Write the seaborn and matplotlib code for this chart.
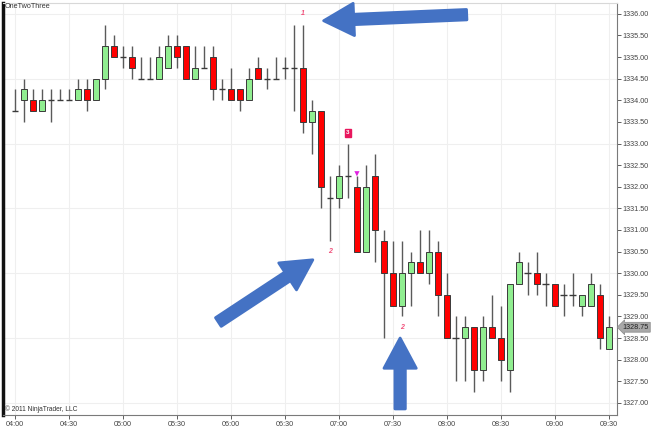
import matplotlib.pyplot as plt
import matplotlib.ticker as mticker
import numpy as np
import pandas as pd
import seaborn as sns

# 5-minute bars, 04:00 - 09:30
opens = [1333.75, 1334.0, 1334.0, 1333.75, 1334.0, 1334.0, 1334.0, 1334.0, 1334.25, 1334.0,
         1334.5, 1335.25, 1335.0, 1335.0, 1334.5, 1334.5, 1334.5, 1334.75, 1335.25, 1335.25,
         1334.5, 1334.75, 1335.0, 1334.25, 1334.25, 1334.25, 1334.0, 1334.75, 1334.5, 1334.5,
         1334.75, 1334.75, 1334.75, 1333.5, 1333.75, 1331.75, 1331.75, 1332.25, 1332.0, 1330.5,
         1332.25, 1330.75, 1330.0, 1329.25, 1330.0, 1330.25, 1330.0, 1330.5, 1329.5, 1328.5,
         1328.5, 1328.75, 1327.75, 1328.75, 1328.5, 1327.75, 1329.75, 1330.0, 1330.0, 1329.75,
         1329.75, 1329.5, 1329.5, 1329.25, 1329.25, 1329.5, 1328.25]
highs = [1334.25, 1334.5, 1334.25, 1334.25, 1334.25, 1334.25, 1334.25, 1334.5, 1334.5, 1334.5,
         1335.75, 1335.5, 1335.25, 1335.25, 1335.0, 1335.0, 1335.25, 1335.5, 1335.5, 1335.25,
         1335.25, 1335.25, 1335.25, 1334.5, 1334.75, 1334.25, 1334.75, 1335.0, 1334.75, 1335.0,
         1335.0, 1335.75, 1335.75, 1334.0, 1333.75, 1332.25, 1332.5, 1333.0, 1332.25, 1332.5,
         1332.75, 1331.0, 1330.75, 1330.75, 1330.5, 1331.0, 1331.0, 1330.75, 1330.0, 1329.0,
         1329.0, 1328.75, 1329.0, 1329.5, 1329.25, 1329.75, 1330.5, 1330.25, 1330.5, 1330.0,
         1329.75, 1329.75, 1330.0, 1329.5, 1330.0, 1329.75, 1329.0]
lows = [1333.75, 1333.5, 1333.75, 1333.75, 1333.5, 1334.0, 1334.0, 1334.0, 1333.75, 1334.0,
        1334.25, 1335.0, 1334.75, 1334.5, 1334.5, 1334.5, 1334.5, 1334.75, 1334.75, 1334.5,
        1334.5, 1334.75, 1334.0, 1334.0, 1334.0, 1333.75, 1334.0, 1334.5, 1334.25, 1334.5,
        1334.5, 1333.75, 1333.25, 1332.75, 1331.5, 1330.75, 1331.5, 1331.75, 1330.5, 1330.5,
        1330.25, 1328.5, 1329.25, 1329.0, 1329.25, 1330.0, 1329.75, 1329.0, 1328.5, 1327.5,
        1327.5, 1327.25, 1327.5, 1328.5, 1327.5, 1327.25, 1329.75, 1329.5, 1329.5, 1329.25,
        1329.25, 1329.0, 1329.25, 1329.0, 1329.25, 1328.25, 1328.25]
closes = [1333.75, 1334.25, 1333.75, 1334.0, 1334.0, 1334.0, 1334.0, 1334.25, 1334.0, 1334.5,
          1335.25, 1335.0, 1335.0, 1334.75, 1334.5, 1334.5, 1335.0, 1335.25, 1335.0, 1334.5,
          1334.75, 1334.75, 1334.25, 1334.25, 1334.0, 1334.0, 1334.5, 1334.5, 1334.5, 1334.5,
          1334.75, 1334.75, 1333.5, 1333.75, 1332.0, 1331.75, 1332.25, 1332.25, 1330.5, 1332.0,
          1331.0, 1330.0, 1329.25, 1330.0, 1330.25, 1330.0, 1330.5, 1329.5, 1328.5, 1328.5,
          1328.75, 1327.75, 1328.75, 1328.5, 1328.0, 1329.75, 1330.25, 1330.0, 1329.75, 1329.75,
          1329.25, 1329.5, 1329.5, 1329.5, 1329.75, 1328.5, 1328.75]

tick_labels = ['04:00', '04:30', '05:00', '05:30', '06:00', '06:30',
               '07:00', '07:30', '08:00', '08:30', '09:00', '09:30']
price_ticks = [1327.0, 1327.5, 1328.0, 1328.5, 1329.0, 1329.5, 1330.0, 1330.5, 1331.0,
               1331.5, 1332.0, 1332.5, 1333.0, 1333.5, 1334.0, 1334.5, 1335.0, 1335.5, 1336.0]

# pattern labels
label_bars = [32, 35, 43]
label_text = ['1', '2', '2']
label_prices = [1336.0, 1330.5, 1328.75]
box_bar, box_price = 37, 1333.25
tri_bar, tri_price = 38, 1332.3

sns.set_style('white')
plt.rcParams['font.family'] = ['Liberation Sans', 'DejaVu Sans']

o = np.array(opens); h = np.array(highs); l = np.array(lows); c = np.array(closes)
x = np.arange(len(o))
up = c > o
dn = c < o
flat = c == o

fig = plt.figure(figsize=(6.52, 4.28), dpi=100)
ax = fig.add_axes([3 / 652, 13 / 428, 614 / 652, 412 / 428])

# grid
for p in np.arange(1327.0, 1336.1, 1.5):
    ax.axhline(p, color='#efefef', lw=0.8, zorder=0)
for t in range(0, 67, 6):
    ax.axvline(t, color='#efefef', lw=0.8, zorder=0)

ax.vlines(x, l, h, color='#5a5a5a', lw=1.0, zorder=2)
ax.bar(x[up], (c - o)[up], bottom=o[up], width=0.64, color='#90ee90',
       edgecolor='#3a3a3a', lw=0.7, zorder=3)
ax.bar(x[dn], (o - c)[dn], bottom=c[dn], width=0.64, color='#ff0000',
       edgecolor='#3a3a3a', lw=0.7, zorder=3)
ax.hlines(o[flat], x[flat] - 0.38, x[flat] + 0.38, color='#3a3a3a', lw=1.0, zorder=3)

for b, t, p in zip(label_bars, label_text, label_prices):
    ax.text(b, p, t, color='#f0507a', fontsize=5, ha='center', va='center',
            style='italic', fontweight='bold', zorder=4)
ax.text(box_bar, box_price, '3', color='white', fontsize=4.5, ha='center', va='center',
        fontweight='bold', zorder=4,
        bbox=dict(boxstyle='square,pad=0.25', fc='#e8175d', ec='#e8175d'))
sns.scatterplot(x=[tri_bar], y=[tri_price], marker='v', s=14, color='#e020e0',
                edgecolor='none', ax=ax, zorder=4)

# blue arrows
arrow_kw = dict(arrowstyle='simple,head_length=1.45,head_width=1.55,tail_width=0.5',
                mutation_scale=15, color='#4472c4', shrinkA=0, shrinkB=0,
                lw=2, joinstyle='round', capstyle='round')
ax.annotate('', xy=(34.3, 1335.84), xytext=(50.2, 1335.98), arrowprops=arrow_kw, zorder=5)
ax.annotate('', xy=(33.1, 1330.31), xytext=(22.6, 1328.87), arrowprops=arrow_kw, zorder=5)
ax.annotate('', xy=(42.8, 1328.5), xytext=(42.8, 1326.86), arrowprops=arrow_kw, zorder=5)

# last price marker
ax.annotate(f'{closes[-1]:.2f}', xy=(1.0, closes[-1]), xycoords=('axes fraction', 'data'),
            xytext=(4, 0), textcoords='offset points', fontsize=5.2, color='#222222',
            va='center', ha='left', annotation_clip=False, zorder=6,
            bbox=dict(boxstyle='larrow,pad=0.2', fc='#a8a8a8', ec='#888888', lw=0.5))

ax.set_xlim(-1.33, 66.9)
ax.set_ylim(1326.72, 1336.25)
ax.set_xticks(range(0, 67, 6))
ax.set_xticklabels(tick_labels)
ax.yaxis.tick_right()
ax.set_yticks(price_ticks)
ax.yaxis.set_major_formatter(mticker.FormatStrFormatter('%.2f'))
ax.tick_params(axis='y', which='both', right=True, length=3, width=0.6, pad=1,
               labelsize=5.2, colors='#444444')
ax.tick_params(axis='x', bottom=True, length=3, width=0.6, pad=1,
               labelsize=5.2, colors='#444444')
ax.spines['right'].set_color('#7a7a7a')
ax.spines['bottom'].set_color('#7a7a7a')
ax.spines['top'].set_color('#d8d8d8')
ax.spines['left'].set_color('#111111')
ax.spines['left'].set_linewidth(2.5)
for s in ['right', 'bottom', 'top']:
    ax.spines[s].set_linewidth(0.8)

fig.text(5 / 652, 1 - 7 / 428, 'OneTwoThree', fontsize=5.2, color='#333333', va='center')
fig.text(5 / 652, 1 - 409 / 428, '\u00a9 2011 NinjaTrader, LLC', fontsize=4.8,
         color='#333333', va='center')

plt.savefig('out.png', dpi=100)
plt.close()
